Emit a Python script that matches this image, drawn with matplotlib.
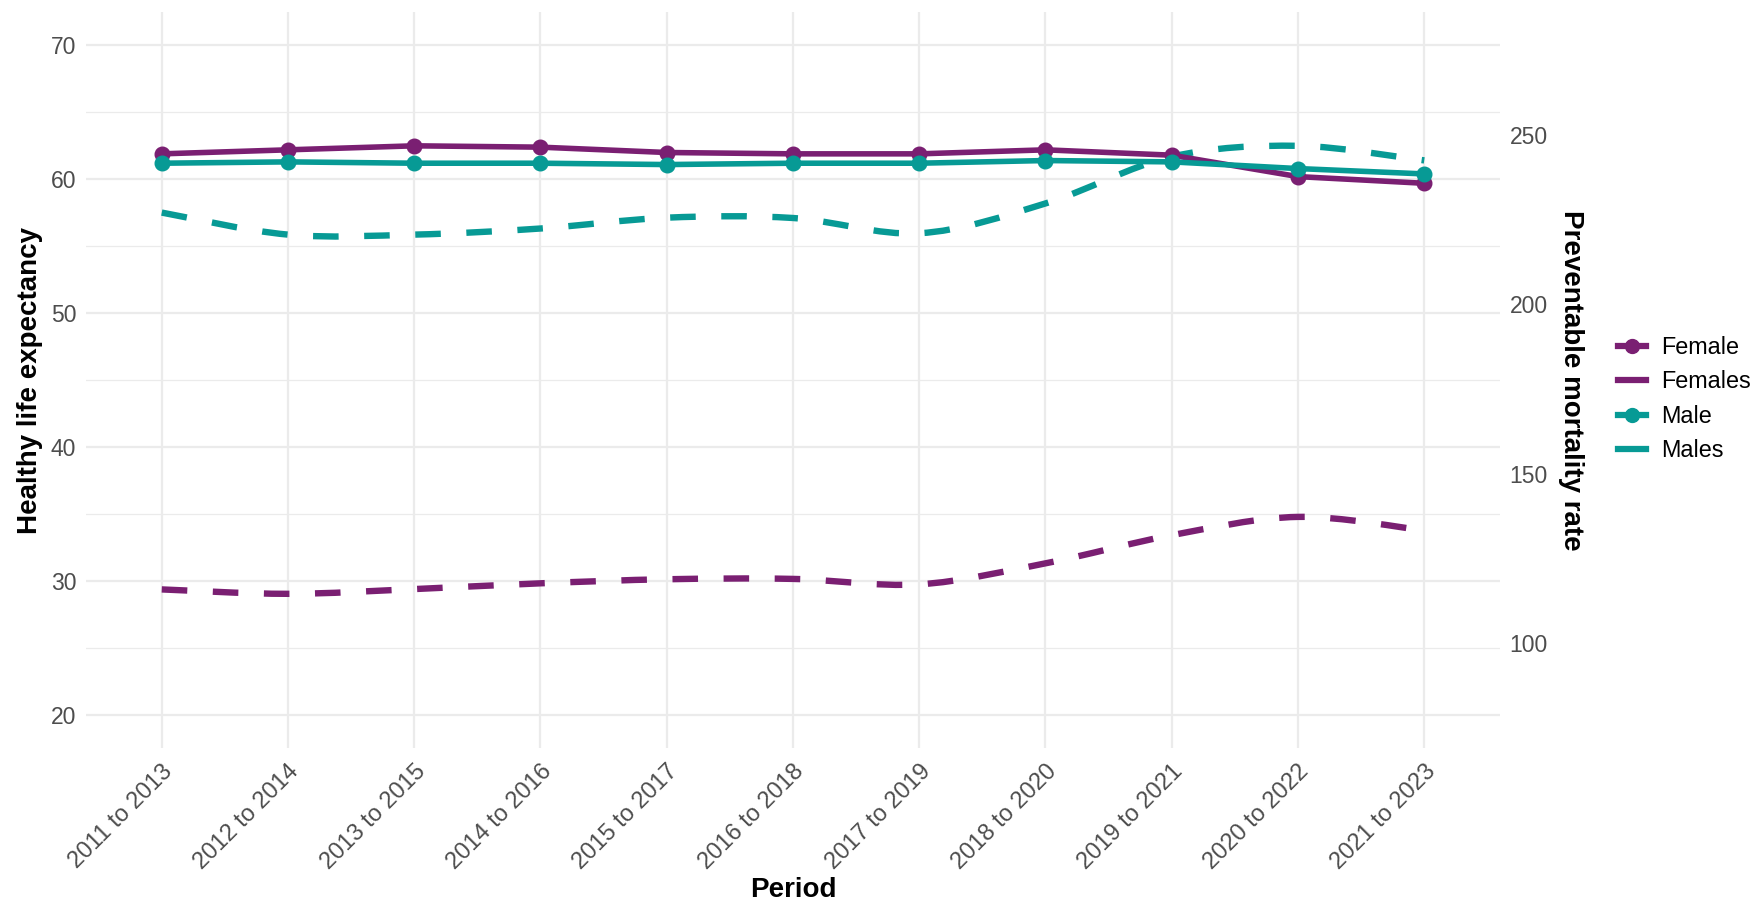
import matplotlib
matplotlib.use("Agg")
import matplotlib.pyplot as plt
from matplotlib.path import Path
from matplotlib.patches import PathPatch
from matplotlib.lines import Line2D
import numpy as np

plt.rcParams['font.family'] = ['Liberation Sans', 'DejaVu Sans']

# Data
periods = ["2011 to 2013", "2012 to 2014", "2013 to 2015", "2014 to 2016",
           "2015 to 2017", "2016 to 2018", "2017 to 2019", "2018 to 2020",
           "2019 to 2021", "2020 to 2022", "2021 to 2023"]
hle_female = [61.9, 62.2, 62.5, 62.4, 62.0, 61.9, 61.9, 62.2, 61.8, 60.2, 59.7]
hle_male = [61.2, 61.3, 61.2, 61.2, 61.1, 61.2, 61.2, 61.4, 61.3, 60.8, 60.4]
mort_female = [115.9, 114.6, 116.0, 117.7, 118.9, 119.0, 117.4, 123.6, 131.9, 137.3, 133.3]
mort_male = [227.1, 220.6, 220.6, 222.4, 225.6, 225.5, 221.0, 229.8, 243.6, 246.8, 242.5]

purple = "#7a1f72"
teal = "#079a95"
grid_col = "#ebebeb"

# secondary axis factor, as in sec_axis(~ . * k)
k = max(mort_female + mort_male) / max(hle_female + hle_male)


def smooth_path(xs, ys):
    # Catmull-Rom segments drawn as cubic Bezier curves through the points
    pts = np.column_stack([np.asarray(xs, float), np.asarray(ys, float)])
    verts = [pts[0]]
    codes = [Path.MOVETO]
    n = len(pts)
    for i in range(n - 1):
        p0 = pts[max(i - 1, 0)]
        p1 = pts[i]
        p2 = pts[i + 1]
        p3 = pts[min(i + 2, n - 1)]
        verts += [p1 + (p2 - p0) / 6.0, p2 - (p3 - p1) / 6.0, p2]
        codes += [Path.CURVE4] * 3
    return Path(verts, codes)


fig = plt.figure(figsize=(17.56, 9.02), dpi=100)
ax = fig.add_axes([86 / 1756, (902 - 748) / 902, 1414 / 1756, 736 / 902])

x = np.arange(len(periods))

# Gridlines
ax.set_axisbelow(True)
ax.set_yticks([20, 30, 40, 50, 60, 70])
ax.set_yticks([25, 35, 45, 55, 65], minor=True)
ax.set_xticks(x)
ax.grid(True, which='major', color=grid_col, lw=1.6)
ax.grid(True, which='minor', axis='y', color=grid_col, lw=0.9)

# Dashed mortality lines (scaled onto primary axis)
for vals, col in [(mort_female, purple), (mort_male, teal)]:
    path = smooth_path(x, np.array(vals) / k)
    patch = PathPatch(path, fill=False, edgecolor=col, lw=4.6,
                      linestyle=(0, (4.0, 4.0)), capstyle='butt', zorder=2)
    ax.add_patch(patch)

# Solid HLE lines with points
ax.plot(x, hle_female, color=purple, lw=4, marker='o', ms=10.5,
        solid_joinstyle='round', zorder=3)
ax.plot(x, hle_male, color=teal, lw=4, marker='o', ms=10.5,
        solid_joinstyle='round', zorder=3)

ax.set_xlim(-0.6, len(periods) - 1 + 0.6)
ax.set_ylim(17.5, 72.5)

for s in ax.spines.values():
    s.set_visible(False)

ax.tick_params(axis='both', which='both', length=0, labelsize=16.5,
               labelcolor='#4d4d4d')
ax.tick_params(axis='y', pad=7)
ax.tick_params(axis='x', pad=9, labelsize=17)
ax.set_xticklabels(periods, rotation=45, ha='right', va='top',
                   rotation_mode='anchor')

ax.set_ylabel("Healthy life expectancy", fontsize=20, fontweight='bold',
              va='center')
ax.yaxis.set_label_coords(-0.0396, 0.5)
ax.set_xlabel("Period", fontsize=20, fontweight='bold', va='center')
ax.xaxis.set_label_coords(0.5, -0.193)

sec = ax.secondary_yaxis('right', functions=(lambda v: v * k, lambda v: v / k))
sec.set_yticks([100, 150, 200, 250])
sec.tick_params(length=0, labelsize=16.5, labelcolor='#4d4d4d', pad=7)
for s in sec.spines.values():
    s.set_visible(False)
fig.text(1571 / 1756, 1 - 380 / 902, "Preventable mortality rate",
         fontsize=20, fontweight='bold', rotation=-90,
         ha='center', va='center')

handles = [
    Line2D([], [], color=purple, lw=4.5, marker='o', ms=10),
    Line2D([], [], color=purple, lw=4.5),
    Line2D([], [], color=teal, lw=4.5, marker='o', ms=10),
    Line2D([], [], color=teal, lw=4.5),
]
labels = ["Female", "Females", "Male", "Males"]
fig.legend(handles, labels, loc='center left',
           bbox_to_anchor=(1618 / 1756, 1 - 399 / 902), frameon=False,
           fontsize=16.8, handlelength=1.2, handletextpad=0.65,
           labelspacing=0.49, borderpad=0, borderaxespad=0)

fig.savefig("out.png", dpi=100)
